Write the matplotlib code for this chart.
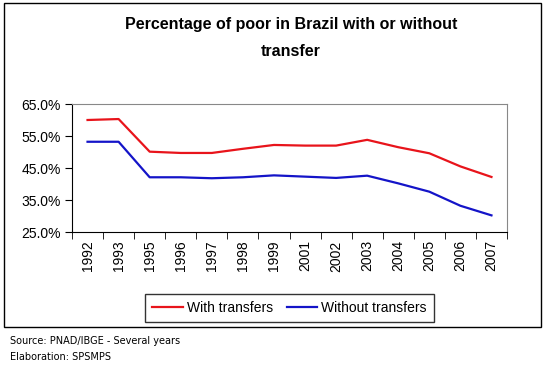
import matplotlib
matplotlib.use("Agg")
import matplotlib.pyplot as plt
from matplotlib.patches import Rectangle
from matplotlib.ticker import FuncFormatter, FixedLocator

plt.rcParams['font.family'] = ['Liberation Sans', 'DejaVu Sans']

years = ['1992', '1993', '1995', '1996', '1997', '1998', '1999',
         '2001', '2002', '2003', '2004', '2005', '2006', '2007']
with_transfers = [60.0, 60.3, 50.1, 49.7, 49.7, 51.0, 52.2,
                  52.0, 52.0, 53.8, 51.5, 49.6, 45.5, 42.2]
without_transfers = [53.2, 53.2, 42.1, 42.1, 41.8, 42.1, 42.7,
                     42.3, 41.9, 42.6, 40.2, 37.6, 33.2, 30.2]
y_ticks = [25, 35, 45, 55, 65]

fig = plt.figure(figsize=(5.48, 3.66), dpi=100)
W, H = 548, 366

# outer chart border
fig.patches.append(Rectangle((4 / W, 1 - 327 / H), 537 / W, 324 / H,
                             transform=fig.transFigure, fill=False,
                             edgecolor='black', linewidth=1))

ax = fig.add_axes([72 / W, 1 - 232 / H, 435 / W, 128 / H])
x = list(range(len(years)))
ax.plot(x, with_transfers, color='#e8141b', linewidth=1.6, label='With transfers')
ax.plot(x, without_transfers, color='#1414c8', linewidth=1.6, label='Without transfers')

ax.set_xlim(-0.5, len(years) - 0.5)
ax.set_ylim(25, 65)
ax.set_yticks(y_ticks)
ax.yaxis.set_major_formatter(FuncFormatter(lambda v, p: '%.1f%%' % v))
ax.set_xticks(x)
ax.set_xticklabels(years, rotation=90)
ax.xaxis.set_minor_locator(FixedLocator([i - 0.5 for i in range(len(years) + 1)]))
ax.tick_params(axis='x', which='major', length=0, pad=6, labelsize=10)
ax.tick_params(axis='x', which='minor', length=5, direction='out')
ax.tick_params(axis='y', length=5, direction='out', labelsize=10, pad=3)
for s in ['top', 'right']:
    ax.spines[s].set_color('#888888')
for s in ['left', 'bottom']:
    ax.spines[s].set_color('black')

fig.text(291 / W, 1 - 24 / H, 'Percentage of poor in Brazil with or without',
         ha='center', va='center', fontsize=11.5, fontweight='bold')
fig.text(291 / W, 1 - 51 / H, 'transfer',
         ha='center', va='center', fontsize=11.5, fontweight='bold')

leg = fig.legend(loc='center', bbox_to_anchor=(289.5 / W, 1 - 308 / H), ncol=2,
                 frameon=True, fancybox=False, edgecolor='black', fontsize=10,
                 handlelength=2.2, handletextpad=0.3, columnspacing=1.0,
                 borderpad=0.5)
leg.get_frame().set_linewidth(1)

fig.text(10 / W, 1 - 341 / H, 'Source: PNAD/IBGE - Several years',
         ha='left', va='center', fontsize=7, family=['DejaVu Sans'])
fig.text(10 / W, 1 - 357 / H, 'Elaboration: SPSMPS',
         ha='left', va='center', fontsize=7, family=['DejaVu Sans'])

fig.savefig('out.png', dpi=100)
